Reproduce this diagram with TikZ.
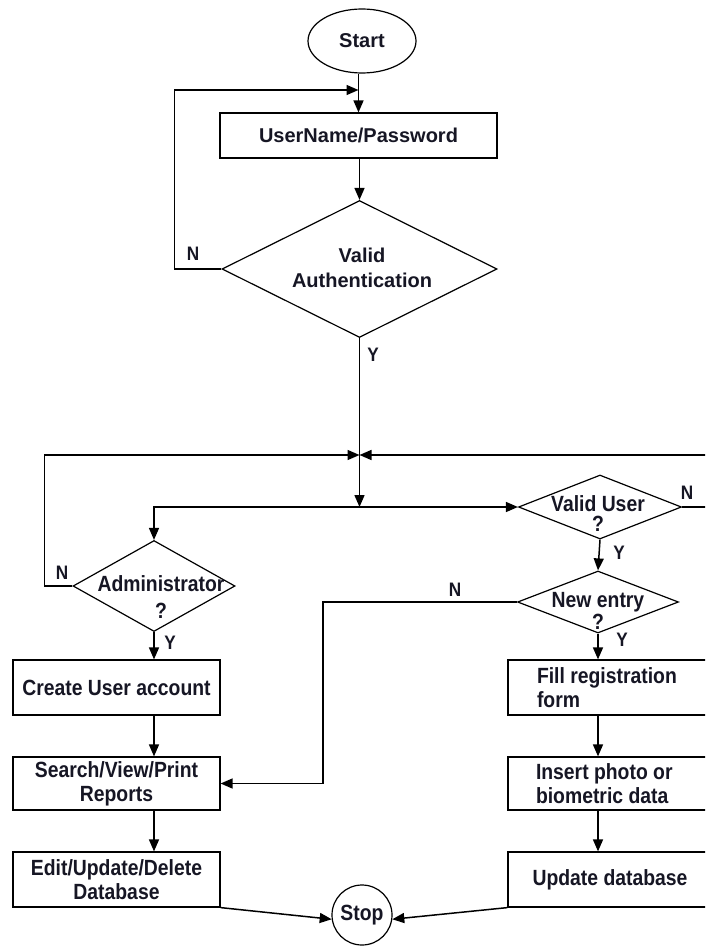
\documentclass[tikz,border=0pt]{standalone}
\usepackage{fontspec}
\setmainfont{Liberation Sans}
\newfontfamily\narrowfont[FakeStretch=0.88]{Liberation Sans}
\usetikzlibrary{shapes.geometric,arrows.meta,calc}
\definecolor{ink}{RGB}{22,22,36}

\begin{document}
\begin{tikzpicture}[x=1pt,y=-1pt,
  line width=1.5pt,
  arr/.style={-{Triangle[length=12pt,width=10pt]}},
  shapeline/.style={draw,line width=1.2pt,inner sep=0pt},
  topfont/.style={font=\fontsize{20}{25}\selectfont\bfseries,text=ink},
  lowfont/.style={font=\narrowfont\fontsize{22}{24}\selectfont\bfseries,text=ink},
  box/.style={shapeline,rectangle,minimum width=207pt,minimum height=55pt,align=center,lowfont},
  rbox/.style={shapeline,rectangle,minimum width=200pt,minimum height=55pt,lowfont},
  dia/.style={shapeline,diamond},
  yn/.style={font=\narrowfont\fontsize{19.5}{19.5}\selectfont\bfseries,text=ink,inner sep=0pt}
]
% page frame
\clip (0,0) rectangle (705,947);
\fill[white] (0,0) rectangle (705,947);

% ---- login part ----
\node[shapeline,ellipse,minimum width=108pt,minimum height=64pt,topfont] (start) at (362,41) {Start};
\node[shapeline,rectangle,minimum width=277pt,minimum height=45pt,topfont] (user) at (358.5,135.5) {UserName/Password};
\node[dia,minimum width=275pt,minimum height=137pt] (auth) at (359.5,269) {};
\node[topfont,align=center] (authtxt) at (362,268) {Valid\\Authentication};

% ---- decisions ----
\node[dia,minimum width=163pt,minimum height=64pt] (vuser) at (600,507) {};
\node[lowfont,align=center,font=\narrowfont\fontsize{22}{20}\selectfont\bfseries] (vusertxt) at (598,514) {Valid User\\?};
\node[dia,minimum width=161pt,minimum height=62pt] (nentry) at (598,602) {};
\node[lowfont,align=center,font=\narrowfont\fontsize{22}{22}\selectfont\bfseries] (nentrytxt) at (598,611) {New entry\\?};
\node[dia,minimum width=162pt,minimum height=91pt] (admin) at (154,586) {};
\node[lowfont,align=center,font=\narrowfont\fontsize{22}{27}\selectfont\bfseries] (admintxt) at (161,597) {Administrator\\?};

% ---- administrator column ----
\node[box] (create) at (116.5,687.5) {Create User account};
\node[box,minimum height=53pt] (search) at (116.5,783.5) {Search/View/Print\\Reports};
\node[box] (edit) at (116.5,879.5) {Edit/Update/Delete\\Database};

% ---- registration column ----
\node[rbox,align=flush left,text width=142pt,inner xsep=29pt] (fill) at (608,687.5) {Fill registration\\form};
\node[rbox,align=flush left,text width=144pt,inner xsep=28pt,minimum height=53pt] (insert) at (608,783.5) {Insert photo or\\biometric data};
\node[rbox,align=center] (update) at (608,879.5) {\hspace*{4pt}Update database};

\node[shapeline,circle,minimum size=60pt,lowfont] (stop) at (362,915) {Stop};

% ---- helper points ----
\coordinate (lp) at (user.north |- 0,90);
\coordinate (J) at (auth.south |- 0,455);
\coordinate (S) at (auth.south |- 0,507);

% ---- connectors ----
\draw[arr] (user.north |- start.south) -- (user.north);
\draw[arr] (auth.west) -- ++(-47,0) |- (lp);
\draw[arr] (user.south -| auth.north) -- (auth.north);
\draw (auth.south) -- (J);
\draw[arr] (J) -- (S);
\draw[arr] (S) -| (admin.north);
\draw[arr] (S) -- (vuser.west);
\draw[arr] (admin.west) -- ++(-28,0) |- (J);
\draw[arr] (vuser.east) -- ++(40,0) |- (J);
\draw[arr] (vuser.south) -- (nentry.north);
\draw[arr] (nentry.west) -- ++(-194,0) |- (search.east);
\draw[arr] (nentry.south) -- (nentry.south |- fill.north);
\draw[arr] (admin.south) -- (admin.south |- create.north);
\draw[arr] (admin.south |- create.south) -- (admin.south |- search.north);
\draw[arr] (admin.south |- search.south) -- (admin.south |- edit.north);
\draw[arr] (nentry.south |- fill.south) -- (nentry.south |- insert.north);
\draw[arr] (nentry.south |- insert.south) -- (nentry.south |- update.north);
\draw[arr] (edit.south east) -- (stop.188);
\draw[arr] (update.south west) -- (stop.-8);

% ---- branch labels ----
\node[yn] (n1) at (193,254) {N};
\node[yn] (y1) at (373,355) {Y};
\node[yn] (n2) at (62,573) {N};
\node[yn] (n3) at (687,493) {N};
\node[yn] (y2) at (619,553) {Y};
\node[yn] (n4) at (455,590) {N};
\node[yn] (y3) at (622,640) {Y};
\node[yn] (y4) at (170,643) {Y};
\end{tikzpicture}
\end{document}
